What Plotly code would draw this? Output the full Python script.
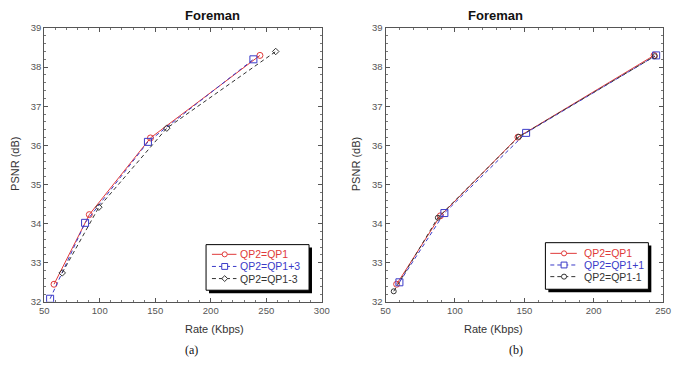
import plotly.graph_objects as go

# ---- data (a) ----
a_rate_qp = [58.8, 90.6, 145.7, 244.3]
a_psnr_qp = [32.45, 34.23, 36.19, 38.30]
a_rate_p3 = [55.3, 86.8, 143.4, 238.4]
a_psnr_p3 = [32.08, 34.02, 36.09, 38.20]
a_rate_m3 = [66.2, 99.2, 160.4, 258.5]
a_psnr_m3 = [32.74, 34.42, 36.44, 38.40]

# ---- data (b) ----
b_rate_qp = [58.0, 89.5, 145.4, 243.5]
b_psnr_qp = [32.45, 34.20, 36.21, 38.30]
b_rate_p1 = [60.0, 92.4, 151.3, 245.0]
b_psnr_p1 = [32.50, 34.27, 36.32, 38.30]
b_rate_m1 = [55.9, 87.7, 146.0, 244.0]
b_psnr_m1 = [32.27, 34.15, 36.22, 38.28]

titles = ["Foreman", "Foreman"]
sublabels = ["(a)", "(b)"]
names_a = ["QP2=QP1", "QP2=QP1+3", "QP2=QP1-3"]
names_b = ["QP2=QP1", "QP2=QP1+1", "QP2=QP1-1"]

RED = "#e03a3a"
BLUE = "#3a3ac8"
BLACK = "#333333"
DASH = "4px,3px"
W, H = 676, 367

fig = go.Figure()

def add(x, y, name, color, dash, symbol, size, xa, ya):
    fig.add_trace(go.Scatter(
        x=x, y=y, mode="lines+markers", name=name, showlegend=False,
        line=dict(color=color, width=1, dash=dash),
        marker=dict(symbol=symbol, size=size, color=color, line=dict(color=color, width=1)),
        xaxis=xa, yaxis=ya))

add(a_rate_qp, a_psnr_qp, names_a[0], RED, "solid", "circle-open", 6, "x", "y")
add(a_rate_p3, a_psnr_p3, names_a[1], BLUE, DASH, "square-open", 7, "x", "y")
add(a_rate_m3, a_psnr_m3, names_a[2], BLACK, DASH, "diamond-open", 5, "x", "y")

add(b_rate_qp, b_psnr_qp, names_b[0], RED, "solid", "circle-open", 6, "x2", "y2")
add(b_rate_p1, b_psnr_p1, names_b[1], BLUE, DASH, "square-open", 7, "x2", "y2")
add(b_rate_m1, b_psnr_m1, names_b[2], BLACK, DASH, "circle-open", 5, "x2", "y2")

def px(x):
    return x / W

def py(y):
    return 1 - y / H

ydom = [py(305), py(22.7)]
axis_common = dict(showline=True, linecolor="#555", linewidth=1, mirror="allticks",
                   ticks="inside", ticklen=4, tickcolor="#555", showgrid=False,
                   zeroline=False, tickfont=dict(family="Liberation Sans", size=9.5, color="#555"))

fig.update_layout(
    width=W, height=H, margin=dict(l=0, r=0, t=0, b=0),
    paper_bgcolor="white", plot_bgcolor="white",
    showlegend=False,
    xaxis=dict(domain=[px(40), px(323)], range=[50, 300], dtick=50, anchor="y",
               minor=dict(ticks="inside", ticklen=2, dtick=10, tickcolor="#777"), **axis_common),
    yaxis=dict(domain=ydom, range=[32, 39], dtick=1, anchor="x",
               minor=dict(ticks="inside", ticklen=2, dtick=0.2, tickcolor="#777"), **axis_common),
    xaxis2=dict(domain=[px(388), px(671)], range=[50, 250], dtick=50, anchor="y2",
                minor=dict(ticks="inside", ticklen=2, dtick=10, tickcolor="#777"), **axis_common),
    yaxis2=dict(domain=ydom, range=[32, 39], dtick=1, anchor="x2",
                minor=dict(ticks="inside", ticklen=2, dtick=0.2, tickcolor="#777"), **axis_common),
)

shapes = []
annots = []

# hand-drawn legends (box with drop shadow)
legend_specs = [
    dict(box=(205, 246, 310, 293), rows=[256, 268.5, 281], line=(211, 236), mk=224, tx=238,
         names=names_a, styles=[(RED, "solid", "circle"), (BLUE, DASH, "square"), (BLACK, DASH, "diamond")]),
    dict(box=(551, 244, 656, 292), rows=[255, 267, 279], line=(556, 583), mk=570, tx=588,
         names=names_b, styles=[(RED, "solid", "circle"), (BLUE, DASH, "square"), (BLACK, DASH, "circle")]),
]
for spec in legend_specs:
    x0, y0, x1, y1 = spec["box"]
    shapes.append(dict(type="rect", xref="paper", yref="paper",
                       x0=px(x0 + 3), x1=px(x1 + 3), y0=py(y1 + 3), y1=py(y0 + 3),
                       fillcolor="black", line=dict(width=0), layer="above"))
    shapes.append(dict(type="rect", xref="paper", yref="paper",
                       x0=px(x0), x1=px(x1), y0=py(y1), y1=py(y0),
                       fillcolor="white", line=dict(color="black", width=1), layer="above"))
    lx0, lx1 = spec["line"]
    for ry, name, (col, dash, sym) in zip(spec["rows"], spec["names"], spec["styles"]):
        shapes.append(dict(type="line", xref="paper", yref="paper",
                           x0=px(lx0), x1=px(lx1), y0=py(ry), y1=py(ry),
                           line=dict(color=col, width=1, dash=dash), layer="above"))
        m = spec["mk"]
        r = 2.6
        if sym == "circle":
            shapes.append(dict(type="circle", xref="paper", yref="paper",
                               x0=px(m - r), x1=px(m + r), y0=py(ry + r), y1=py(ry - r),
                               fillcolor="white", line=dict(color=col, width=1), layer="above"))
        elif sym == "square":
            shapes.append(dict(type="rect", xref="paper", yref="paper",
                               x0=px(m - 3), x1=px(m + 3), y0=py(ry + 3), y1=py(ry - 3),
                               fillcolor="white", line=dict(color=col, width=1), layer="above"))
        else:
            path = (f"M {px(m - 3)} {py(ry)} L {px(m)} {py(ry - 3)} L {px(m + 3)} {py(ry)} "
                    f"L {px(m)} {py(ry + 3)} Z")
            shapes.append(dict(type="path", xref="paper", yref="paper", path=path,
                               fillcolor="white", line=dict(color=col, width=1), layer="above"))
        annots.append(dict(x=px(spec["tx"]), y=py(ry), xref="paper", yref="paper", text=name,
                           xanchor="left", yanchor="middle", showarrow=False,
                           font=dict(family="Liberation Sans", size=10.5, color=col)))

for cx, t, s in [(181, titles[0], sublabels[0]), (530, titles[1], sublabels[1])]:
    annots.append(dict(x=px(cx), y=py(10), xref="paper", yref="paper", text=f"<b>{t}</b>",
                       yanchor="middle", showarrow=False,
                       font=dict(family="Liberation Sans", size=13, color="#111")))
    annots.append(dict(x=px(cx), y=py(333), xref="paper", yref="paper", text="Rate (Kbps)",
                       yanchor="middle", showarrow=False,
                       font=dict(family="Liberation Sans", size=11, color="#333")))
    annots.append(dict(x=px(cx), y=py(355), xref="paper", yref="paper", text=s,
                       yanchor="middle", showarrow=False,
                       font=dict(family="Liberation Serif", size=12, color="#111")))
for lx in [10, 358]:
    annots.append(dict(x=px(lx), y=py(163), xref="paper", yref="paper", text="PSNR (dB)",
                       textangle=-90, xanchor="center", yanchor="middle", showarrow=False,
                       font=dict(family="Liberation Sans", size=11, color="#333")))

fig.update_layout(shapes=shapes, annotations=annots)

fig.write_html("out.html")
